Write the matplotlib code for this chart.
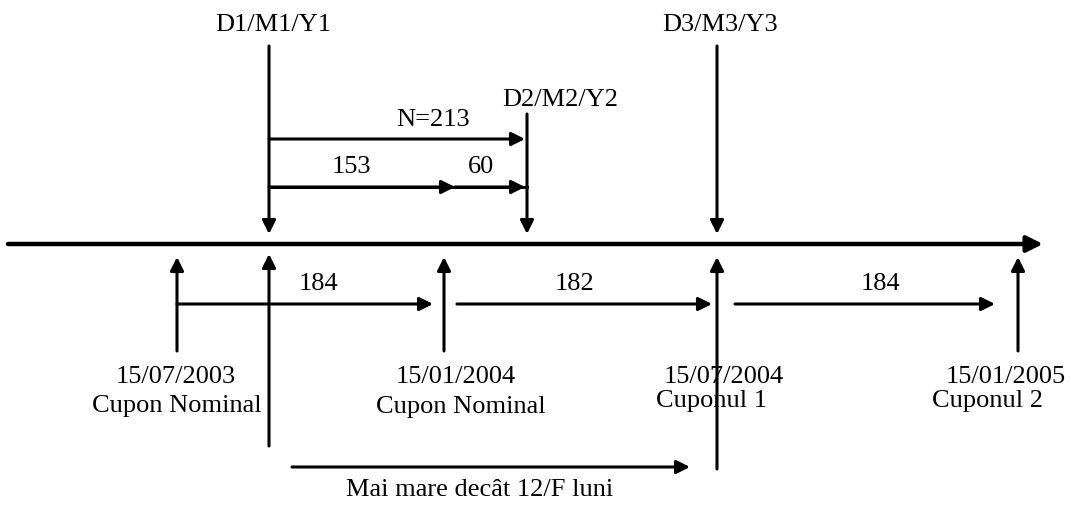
import matplotlib.pyplot as plt

plt.rcParams['font.family'] = ['Liberation Serif', 'DejaVu Serif']

# labels / values of the coupon timeline
top_labels = ['D1/M1/Y1', 'D2/M2/Y2', 'D3/M3/Y3']
dates = ['15/07/2003', '15/01/2004', '15/07/2004', '15/01/2005']
coupon_names = ['Cupon Nominal', 'Cupon Nominal', 'Cuponul 1', 'Cuponul 2']
period_days = [184, 182, 184]
n_days = 213
split_days = [153, 60]
bottom_text = 'Mai mare decât 12/F luni'

# layout (pixel coordinates of the diagram)
axis_y = 245
x_top = [269, 527, 717]
x_dates = [177, 444, 717, 1018]
date_lbl_x = [176, 456, 724, 1006]
name_lbl_x = [177, 461, 712, 988]

fig = plt.figure(figsize=(10.71, 5.06), dpi=100)
ax = fig.add_axes([0, 0, 1, 1])
ax.set_xlim(0, 1071)
ax.set_ylim(506, 0)
ax.axis('off')

fs = 19
lw = 2.2


def arrow(x0, y0, x1, y1, lw=lw, ms=20):
    ax.annotate('', xy=(x1, y1), xytext=(x0, y0),
                arrowprops=dict(arrowstyle='-|>', color='black', lw=lw,
                                mutation_scale=ms, shrinkA=0, shrinkB=0))


# main time axis
arrow(8, axis_y, 1043, axis_y, lw=3.2, ms=24)

# top markers
top_start = [47, 115, 47]
for x, y0, lab in zip(x_top, top_start, top_labels):
    arrow(x, y0, x, axis_y - 10)
ax.text(273, 25, top_labels[0], ha='center', va='center', fontsize=fs)
ax.text(560, 100, top_labels[1], ha='center', va='center', fontsize=fs)
ax.text(720, 25, top_labels[2], ha='center', va='center', fontsize=fs)

# N = 213
arrow(x_top[0], 140, x_top[1] - 2, 140)
ax.text(433, 120, 'N=%d' % n_days, ha='center', va='center', fontsize=fs)

# 153 + 60
ax.plot([x_top[0], x_top[1]], [188, 188], color='black', lw=lw)
arrow(x_top[0], 188, 455, 188)
arrow(455, 188, x_top[1] - 2, 188)
ax.text(351, 167, str(split_days[0]), ha='center', va='center', fontsize=fs)
ax.text(481, 167, str(split_days[1]), ha='center', va='center', fontsize=fs)

# bottom up-arrows for coupon dates
bottoms = [352, 352, 470, 352]
for x, yb in zip(x_dates, bottoms):
    arrow(x, yb, x, axis_y + 13)
# settlement date up-arrow
arrow(x_top[0], 447, x_top[0], axis_y + 10)

# period arrows
segs = [(177, 433), (457, 712), (735, 995)]
lbl_x = [318, 575, 880]
for (a, b), d, lx in zip(segs, period_days, lbl_x):
    arrow(a, 305, b, 305)
    ax.text(lx, 284, str(d), ha='center', va='center', fontsize=fs)

# date labels
for dx, nx, d, n in zip(date_lbl_x, name_lbl_x, dates, coupon_names):
    ax.text(dx, 377, d, ha='center', va='center', fontsize=fs)
ax.text(name_lbl_x[0], 406, coupon_names[0], ha='center', va='center', fontsize=fs)
ax.text(name_lbl_x[1], 407, coupon_names[1], ha='center', va='center', fontsize=fs)
ax.text(name_lbl_x[2], 401, coupon_names[2], ha='center', va='center', fontsize=fs)
ax.text(name_lbl_x[3], 401, coupon_names[3], ha='center', va='center', fontsize=fs)

# more than 12/F months
arrow(292, 468, 690, 468)
ax.text(480, 490, bottom_text, ha='center', va='center', fontsize=fs)

fig.savefig('out.png', dpi=100)
